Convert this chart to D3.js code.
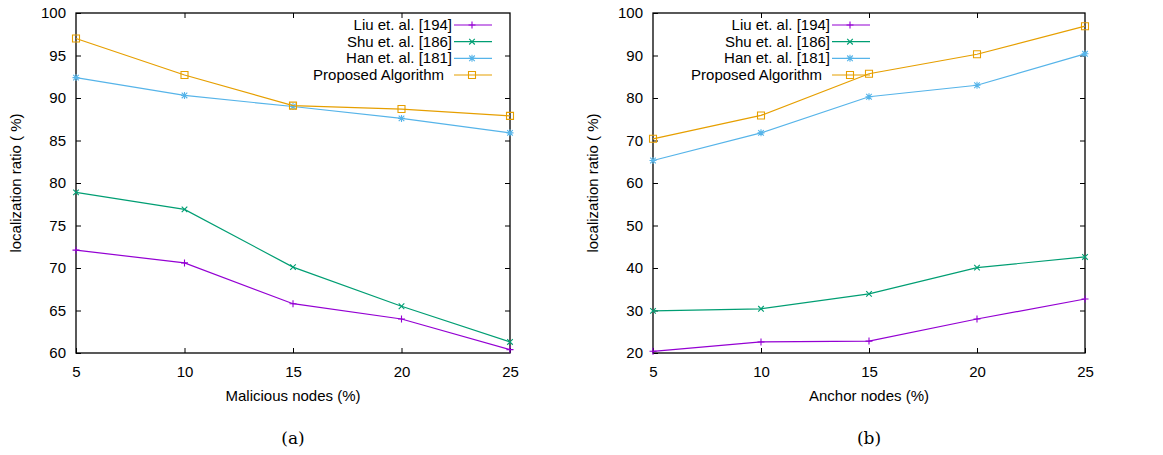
<!DOCTYPE html>
<html>
<head>
<meta charset="utf-8">
<script src="https://cdn.jsdelivr.net/npm/d3@7"></script>
<style>
  html, body { margin: 0; padding: 0; background: #fff; }
  svg { display: block; }
  text { font-family: "Liberation Sans", Arial, sans-serif; fill: #000; }
</style>
</head>
<body>
<script>
// x positions shared by both panels
const xValues = [5, 10, 15, 20, 25];
const xTicks = [5, 10, 15, 20, 25];

const seriesNames = ["Liu et. al. [194]", "Shu et. al. [186]", "Han et. al. [181]", "Proposed Algorithm"];
const seriesColors = ["#9400d3", "#009e73", "#56b4e9", "#e69f00"];
const seriesMarkers = ["plus", "cross", "star", "square"];

// Panel (a): localization ratio vs malicious nodes
const liuMalicious = [72.1, 70.6, 65.8, 64.0, 60.4];
const shuMalicious = [78.9, 76.9, 70.1, 65.5, 61.3];
const hanMalicious = [92.4, 90.3, 89.0, 87.6, 85.9];
const proposedMalicious = [97.0, 92.7, 89.1, 88.7, 87.9];
const yTicksA = [60, 65, 70, 75, 80, 85, 90, 95, 100];

// Panel (b): localization ratio vs anchor nodes
const liuAnchor = [20.4, 22.6, 22.8, 28.0, 32.7];
const shuAnchor = [29.9, 30.4, 33.9, 40.1, 42.6];
const hanAnchor = [65.3, 71.8, 80.3, 83.0, 90.4];
const proposedAnchor = [70.4, 75.9, 85.7, 90.3, 96.9];
const yTicksB = [20, 30, 40, 50, 60, 70, 80, 90, 100];

const W = 1163, H = 455;
const FS = 15;
const svg = d3.select("body").append("svg").attr("width", W).attr("height", H);
svg.append("rect").attr("width", W).attr("height", H).attr("fill", "#fff");

function markerPath(type, s) {
  const p = d3.path();
  if (type === "plus" || type === "star") {
    p.moveTo(-s, 0); p.lineTo(s, 0);
    p.moveTo(0, -s); p.lineTo(0, s);
  }
  if (type === "cross" || type === "star") {
    const d = s * 0.8;
    p.moveTo(-d, -d); p.lineTo(d, d);
    p.moveTo(-d, d); p.lineTo(d, -d);
  }
  if (type === "square") {
    p.rect(-s, -s, 2 * s, 2 * s);
  }
  return p.toString();
}

function drawPanel(cfg) {
  const { left, right, top, bottom, yDomain, yTicks, series, xLabel, caption, legendX, ylabelX } = cfg;
  const x = d3.scaleLinear().domain([5, 25]).range([left, right]);
  const y = d3.scaleLinear().domain(yDomain).range([bottom, top]);
  const g = svg.append("g");
  const tickLen = 5;

  // inward ticks on all four sides
  const axisStyle = sel => {
    sel.select(".domain").remove();
    sel.selectAll(".tick line").attr("stroke", "#000").attr("stroke-width", 1);
  };
  const labelFont = s => s.selectAll("text").attr("font-size", FS)
    .attr("font-family", "Liberation Sans, Arial, sans-serif");
  g.append("g").attr("transform", `translate(0,${bottom})`)
    .call(d3.axisBottom(x).tickValues(xTicks).tickSize(-tickLen).tickPadding(13))
    .call(axisStyle).call(labelFont);
  g.append("g").attr("transform", `translate(0,${top})`)
    .call(d3.axisTop(x).tickValues(xTicks.slice(1, -1)).tickSize(-tickLen).tickFormat(""))
    .call(axisStyle);
  g.append("g").attr("transform", `translate(${left},0)`)
    .call(d3.axisLeft(y).tickValues(yTicks).tickSize(-tickLen).tickPadding(10))
    .call(axisStyle).call(labelFont);
  g.append("g").attr("transform", `translate(${right},0)`)
    .call(d3.axisRight(y).tickValues(yTicks.slice(1, -1)).tickSize(-tickLen).tickFormat(""))
    .call(axisStyle);

  // plot border
  g.append("rect").attr("x", left).attr("y", top)
    .attr("width", right - left).attr("height", bottom - top)
    .attr("fill", "none").attr("stroke", "#000").attr("stroke-width", 1.3);

  // series lines and markers
  const line = d3.line().x((d, i) => x(xValues[i])).y(d => y(d));
  series.forEach((vals, k) => {
    g.append("path").datum(vals).attr("d", line)
      .attr("fill", "none").attr("stroke", seriesColors[k]).attr("stroke-width", 1.2);
    g.selectAll(null).data(vals).join("path")
      .attr("transform", (d, i) => `translate(${x(xValues[i])},${y(d)})`)
      .attr("d", markerPath(seriesMarkers[k], 3.5))
      .attr("fill", "none").attr("stroke", seriesColors[k]).attr("stroke-width", 1.1);
  });

  // legend (the last entry's text sits a little further left)
  const rowY = [25, 41.7, 58.3, 75];
  const textShift = [0, 0, 0, -8];
  seriesNames.forEach((name, k) => {
    const ly = rowY[k];
    g.append("text").attr("x", legendX + textShift[k]).attr("y", ly + 5)
      .attr("text-anchor", "end").attr("font-size", FS).text(name);
    g.append("line").attr("x1", legendX + 2).attr("x2", legendX + 40)
      .attr("y1", ly).attr("y2", ly)
      .attr("stroke", seriesColors[k]).attr("stroke-width", 1.2);
    g.append("path").attr("transform", `translate(${legendX + 20},${ly})`)
      .attr("d", markerPath(seriesMarkers[k], 3.5))
      .attr("fill", "none").attr("stroke", seriesColors[k]).attr("stroke-width", 1.1);
  });

  // axis titles
  g.append("text").attr("x", (left + right) / 2).attr("y", 401)
    .attr("text-anchor", "middle").attr("font-size", FS).text(xLabel);
  g.append("text")
    .attr("transform", `translate(${ylabelX},${(top + bottom) / 2}) rotate(-90)`)
    .attr("text-anchor", "middle").attr("font-size", FS).text("localization ratio ( %)");

  // sub-figure caption
  g.append("text").attr("x", (left + right) / 2).attr("y", 444)
    .attr("text-anchor", "middle").attr("font-size", 17)
    .style("font-family", "'DejaVu Serif', 'Liberation Serif', serif")
    .text(caption);
}

drawPanel({
  left: 76, right: 510, top: 13, bottom: 353,
  yDomain: [60, 100], yTicks: yTicksA,
  series: [liuMalicious, shuMalicious, hanMalicious, proposedMalicious],
  xLabel: "Malicious nodes (%)", caption: "(a)", legendX: 452, ylabelX: 21
});

drawPanel({
  left: 653, right: 1085, top: 13, bottom: 353,
  yDomain: [20, 100], yTicks: yTicksB,
  series: [liuAnchor, shuAnchor, hanAnchor, proposedAnchor],
  xLabel: "Anchor nodes (%)", caption: "(b)", legendX: 830, ylabelX: 598
});
</script>
</body>
</html>
